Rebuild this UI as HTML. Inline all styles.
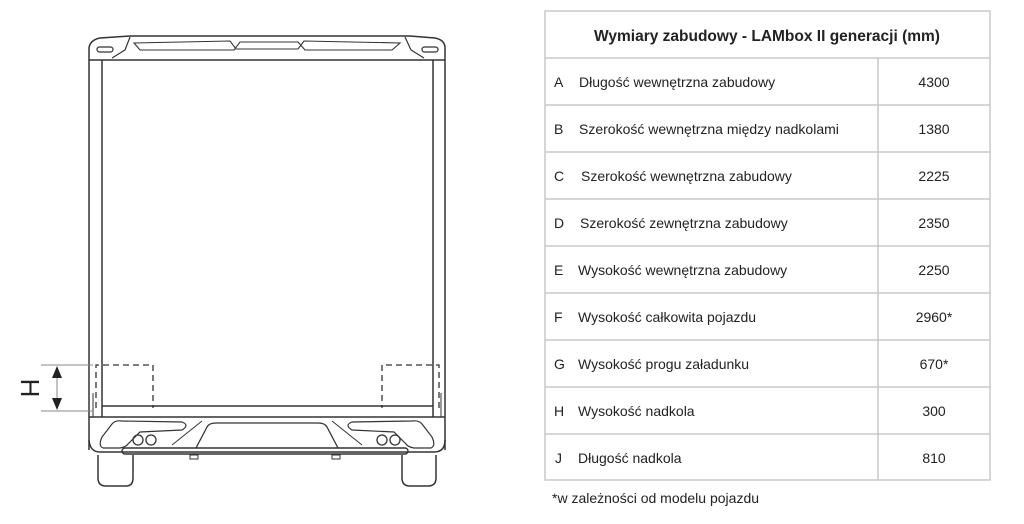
<!DOCTYPE html>
<html><head><meta charset="utf-8"><style>
html,body{margin:0;padding:0;background:#fff;width:1024px;height:524px;overflow:hidden}
svg{display:block}
text{font-family:"Liberation Sans",Arial,sans-serif;fill:#222}
</style></head><body>
<svg width="1024" height="524" viewBox="0 0 1024 524" xmlns="http://www.w3.org/2000/svg">
<g fill="none" stroke="#333" stroke-width="1.5">
<path d="M89 60 L89 48 Q90 40 100 38 L130 36 L410 36 L435 38 Q445 40 445 48 L445 60"/>
<path d="M89 60 L445 60" />
<path d="M130 37 L125 50 L112 58 M405 37 L411 50 L424 58" stroke-width="1.2"/>
<path d="M134 43 L230 41 L236 49 L298 49 L304 41 L400 43 L392 50 L305 50 L298 42 L240 42 L234 50 L140 50 Z" stroke-width="1.1"/>
<rect x="97" y="47" width="16" height="5" rx="2.5" stroke-width="1.2"/>
<rect x="422" y="47" width="16" height="5" rx="2.5" stroke-width="1.2"/>
<line x1="89" y1="60" x2="89" y2="450"/>
<line x1="445" y1="60" x2="445" y2="450"/>
<line x1="102" y1="60" x2="102" y2="417"/>
<line x1="433" y1="60" x2="433" y2="417"/>
<line x1="102" y1="406" x2="433" y2="406"/>
<line x1="89" y1="417" x2="445" y2="417"/>
<path d="M93 393 L93 417 M441 393 L441 417" stroke-width="1"/>
<path d="M89 440 Q90 452 100 452 L434 452 Q445 452 445 440" />
<path d="M103 448 Q98 446 102 437 L112 424 Q115 420 122 421 L182 422 Q190 425 182 430 L140 432 L128 444 Q126 447 120 448 Z" stroke-width="1.2"/>
<path d="M431 448 Q436 446 432 437 L422 424 Q419 420 412 421 L352 422 Q344 425 352 430 L394 432 L406 444 Q408 447 414 448 Z" stroke-width="1.2"/>
<circle cx="138" cy="440" r="5" stroke-width="1.3"/><circle cx="151" cy="440" r="5" stroke-width="1.3"/>
<circle cx="382" cy="440" r="5" stroke-width="1.3"/><circle cx="395" cy="440" r="5" stroke-width="1.3"/>
<path d="M196 448 L207 427 Q209 423 216 423 L318 423 Q325 423 327 427 L338 448" stroke-width="1.3"/>
<path d="M172 445 L202 421 M362 445 L332 421" stroke-width="1"/>
<rect x="122" y="448" width="286" height="6" rx="3" stroke-width="1.4"/>
<path d="M190 455 h8 v4 h-8z M332 455 h8 v4 h-8z" stroke-width="1"/>
<path d="M98 455 L98 478 Q98 486 106 486 L126 486 Q133 486 133 478 L133 455"/>
<path d="M402 455 L402 478 Q402 486 410 486 L428 486 Q436 486 436 478 L436 455"/>
<path d="M96 408 L96 365 L153 365 L153 408" stroke-dasharray="6 4" stroke-width="1.3"/>
<path d="M439 408 L439 365 L382 365 L382 408" stroke-dasharray="6 4" stroke-width="1.3"/>
</g>
<g stroke="#888" stroke-width="1">
<line x1="41" y1="365" x2="93" y2="365"/><line x1="41" y1="411" x2="93" y2="411"/>
<line x1="57" y1="372" x2="57" y2="404"/>
</g>
<path d="M57 366 L52 378 L62 378 Z M57 410 L52 398 L62 398 Z" fill="#222"/>
<text x="0" y="0" font-size="26" transform="translate(21 388) rotate(90)" text-anchor="middle" style="fill:#222">H</text>
<g stroke="#c8c8c8" stroke-width="1.5" fill="none">
<rect x="545" y="11" width="445" height="469"/>
<line x1="545" y1="58" x2="990" y2="58"/>
<line x1="878" y1="58" x2="878" y2="480"/>
<line x1="545" y1="105" x2="990" y2="105"/>
<line x1="545" y1="152" x2="990" y2="152"/>
<line x1="545" y1="199" x2="990" y2="199"/>
<line x1="545" y1="246" x2="990" y2="246"/>
<line x1="545" y1="293" x2="990" y2="293"/>
<line x1="545" y1="340" x2="990" y2="340"/>
<line x1="545" y1="387" x2="990" y2="387"/>
<line x1="545" y1="434" x2="990" y2="434"/>
</g>
<text x="767" y="41" font-size="15.5" font-weight="bold" text-anchor="middle">Wymiary zabudowy - LAMbox II generacji (mm)</text>
<g font-size="14">
<text x="554" y="87">A</text><text x="579" y="87">Długość wewnętrzna zabudowy</text><text x="934" y="87" text-anchor="middle">4300</text>
<text x="554" y="134">B</text><text x="579" y="134">Szerokość wewnętrzna między nadkolami</text><text x="934" y="134" text-anchor="middle">1380</text>
<text x="554" y="181">C</text><text x="581" y="181">Szerokość wewnętrzna zabudowy</text><text x="934" y="181" text-anchor="middle">2225</text>
<text x="554" y="228">D</text><text x="580" y="228">Szerokość zewnętrzna zabudowy</text><text x="934" y="228" text-anchor="middle">2350</text>
<text x="554" y="275">E</text><text x="578" y="275">Wysokość wewnętrzna zabudowy</text><text x="934" y="275" text-anchor="middle">2250</text>
<text x="554" y="322">F</text><text x="578" y="322">Wysokość całkowita pojazdu</text><text x="934" y="322" text-anchor="middle">2960*</text>
<text x="554" y="369">G</text><text x="578" y="369">Wysokość progu załadunku</text><text x="934" y="369" text-anchor="middle">670*</text>
<text x="554" y="416">H</text><text x="578" y="416">Wysokość nadkola</text><text x="934" y="416" text-anchor="middle">300</text>
<text x="555" y="463">J</text><text x="578" y="463">Długość nadkola</text><text x="934" y="463" text-anchor="middle">810</text>
<text x="552" y="503">*w zależności od modelu pojazdu</text>
</g>
</svg>
</body></html>
